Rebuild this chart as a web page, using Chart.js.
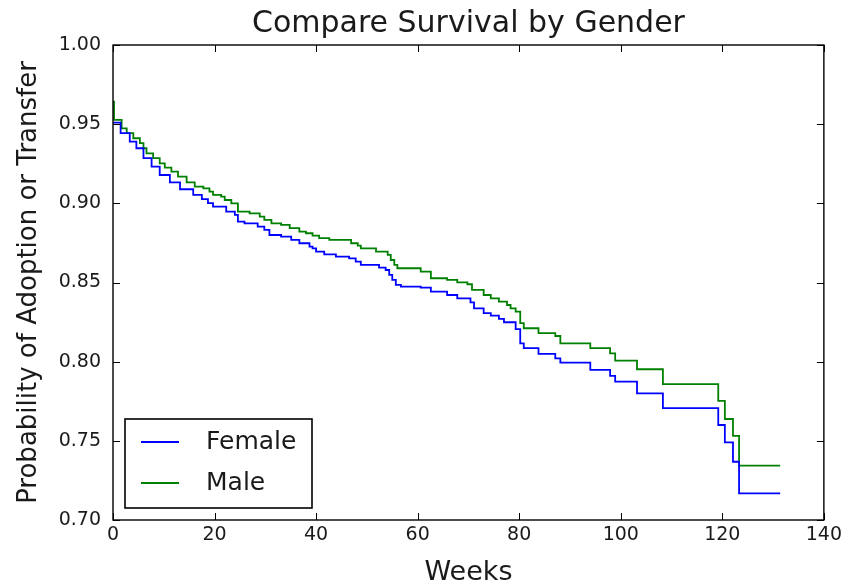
<!DOCTYPE html>
<html>
<head>
<meta charset="utf-8">
<title>Compare Survival by Gender</title>
<script src="https://cdn.jsdelivr.net/npm/chart.js@4.4.1/dist/chart.umd.min.js"></script>
<style>
  html, body { margin: 0; padding: 0; background: #fff; }
  #wrap { width: 846px; height: 585px; }
</style>
</head>
<body>
<div id="wrap"><canvas id="survivalChart" width="846" height="585"></canvas></div>
<script>
// survival estimates: value holds from that week on
const femaleWeeks = [0, 1.5, 3.3, 4.6, 6.0, 7.6, 9.2, 11.2, 13.2, 15.8, 17.5, 18.7, 19.7, 22.3, 24.0, 24.6,
  25.9, 28.5, 29.8, 30.8, 33.1, 35.1, 36.7, 38.7, 39.3, 40.0, 41.6, 43.9, 46.5, 47.8, 48.8, 52.4, 53.7,
  54.4, 55.0, 55.7, 56.7, 60.6, 62.6, 65.8, 67.8, 70.4, 71.1, 73.0, 74.4, 76.0, 77.0, 79.3, 80.2, 80.9,
  83.8, 87.1, 88.1, 94.0, 97.9, 98.9, 103.2, 108.3, 119.2, 120.5, 122.1, 123.3, 131.4];
const femaleSurvival = [0.951, 0.9443, 0.939, 0.9348, 0.9285, 0.9232, 0.9179, 0.9133, 0.9089, 0.9053, 0.9026,
  0.9001, 0.8979, 0.8948, 0.8927, 0.8885, 0.8874, 0.8853, 0.8832, 0.880, 0.879, 0.8769, 0.8748, 0.8727,
  0.8716, 0.8695, 0.8678, 0.8663, 0.8653, 0.8632, 0.8611, 0.8594, 0.8579, 0.8548, 0.8516, 0.8485, 0.8474,
  0.8468, 0.8442, 0.8421, 0.840, 0.8375, 0.8337, 0.8306, 0.8291, 0.827, 0.8249, 0.8205, 0.8116, 0.8085,
  0.8049, 0.8021, 0.7994, 0.7948, 0.791, 0.7874, 0.780, 0.7706, 0.760, 0.749, 0.7368, 0.7168, 0.7168];

const maleWeeks = [0, 0.2, 1.7, 2.7, 4.0, 5.3, 6.0, 6.6, 7.9, 9.2, 10.2, 11.5, 12.8, 14.5, 16.1, 17.8, 19.0,
  19.7, 21.3, 22.0, 23.3, 24.6, 26.9, 28.9, 29.8, 31.2, 33.1, 34.8, 36.7, 38.0, 39.3, 40.6, 42.6, 46.9,
  48.2, 48.8, 51.8, 54.1, 54.7, 55.4, 56.0, 60.6, 62.6, 65.8, 67.8, 69.8, 70.7, 73.0, 74.4, 76.0, 77.6,
  78.3, 79.3, 80.2, 80.9, 83.8, 87.1, 88.1, 94.0, 97.9, 98.9, 103.2, 108.3, 119.2, 120.5, 122.1, 123.3, 131.4];
const maleSurvival = [0.9643, 0.9527, 0.9474, 0.9443, 0.9411, 0.938, 0.9348, 0.9316, 0.9285, 0.9253, 0.9226,
  0.920, 0.9169, 0.9133, 0.9106, 0.9095, 0.9074, 0.9053, 0.9042, 0.9021, 0.900, 0.8948, 0.8937, 0.8916,
  0.8895, 0.8874, 0.8864, 0.8843, 0.8821, 0.8811, 0.8796, 0.878, 0.8769, 0.8748, 0.8733, 0.8716, 0.8695,
  0.8674, 0.8642, 0.8611, 0.859, 0.8569, 0.8527, 0.8516, 0.8501, 0.8489, 0.8453, 0.8421, 0.840, 0.8379,
  0.8358, 0.8337, 0.8316, 0.8243, 0.8211, 0.818, 0.8162, 0.8116, 0.8085, 0.8053, 0.8006, 0.7952, 0.7858,
  0.7752, 0.7638, 0.7531, 0.7343, 0.7343];

const seriesLabels = ["Female", "Male"];
const xTickValues = [0, 20, 40, 60, 80, 100, 120, 140];
const yTickValues = [0.70, 0.75, 0.80, 0.85, 0.90, 0.95, 1.00];

const FONT = "'DejaVu Sans', sans-serif";
const TEXT = "#1a1a1a";

const toPoints = (xs, ys) => xs.map((w, i) => ({ x: w, y: ys[i] }));

// matplotlib look: closed frame, ticks pointing inwards on all four sides, legend box in lower left
const frameAndLegend = {
  id: "frameAndLegend",
  afterDatasetsDraw(chart) {
    const { ctx, chartArea: a, scales: { x, y } } = chart;
    const tick = 7;
    ctx.save();
    ctx.strokeStyle = "#000";
    ctx.lineWidth = 1;
    ctx.beginPath();
    x.ticks.forEach(t => {
      const px = Math.round(x.getPixelForValue(t.value)) + 0.5;
      ctx.moveTo(px, a.bottom); ctx.lineTo(px, a.bottom - tick);
      ctx.moveTo(px, a.top); ctx.lineTo(px, a.top + tick);
    });
    y.ticks.forEach(t => {
      const py = Math.round(y.getPixelForValue(t.value)) + 0.5;
      ctx.moveTo(a.left, py); ctx.lineTo(a.left + tick, py);
      ctx.moveTo(a.right, py); ctx.lineTo(a.right - tick, py);
    });
    ctx.stroke();
    ctx.lineWidth = 1.4;
    ctx.strokeRect(a.left, a.top, a.right - a.left, a.bottom - a.top);

    // legend
    const bx = a.left + 12, bw = 187, bh = 89, by = a.bottom - 12 - bh;
    ctx.fillStyle = "#fff";
    ctx.fillRect(bx, by, bw, bh);
    ctx.lineWidth = 1.6;
    ctx.strokeRect(bx, by, bw, bh);
    ctx.font = "25px " + FONT;
    ctx.textBaseline = "middle";
    chart.data.datasets.forEach((ds, i) => {
      const ly = by + 23 + i * 41;
      ctx.strokeStyle = ds.borderColor;
      ctx.lineWidth = 1.8;
      ctx.beginPath();
      ctx.moveTo(bx + 16, ly); ctx.lineTo(bx + 54, ly);
      ctx.stroke();
      ctx.fillStyle = TEXT;
      ctx.fillText(ds.label, bx + 81, ly);
    });
    ctx.restore();
  }
};

new Chart(document.getElementById("survivalChart"), {
  type: "line",
  data: {
    datasets: [
      {
        label: seriesLabels[0],
        data: toPoints(femaleWeeks, femaleSurvival),
        borderColor: "rgb(0, 0, 255)",
        borderWidth: 1.8,
        stepped: true,
        pointRadius: 0,
        fill: false,
      },
      {
        label: seriesLabels[1],
        data: toPoints(maleWeeks, maleSurvival),
        borderColor: "rgb(0, 128, 0)",
        borderWidth: 1.8,
        stepped: true,
        pointRadius: 0,
        fill: false,
      },
    ],
  },
  options: {
    responsive: false,
    animation: false,
    devicePixelRatio: 1,
    layout: { padding: { top: 0, right: 19, bottom: 0, left: 0 } },
    plugins: {
      legend: { display: false },
      tooltip: { enabled: false },
      title: {
        display: true,
        text: "Compare Survival by Gender",
        fullSize: false,
        color: TEXT,
        font: { family: FONT, size: 30, weight: "normal", lineHeight: 1.2 },
        padding: { top: 6, bottom: 3 },
      },
    },
    scales: {
      x: {
        type: "linear",
        min: 0,
        max: 140,
        afterBuildTicks: s => { s.ticks = xTickValues.map(v => ({ value: v })); },
        afterFit: s => { s.height = 65; },
        grid: { display: false, drawTicks: false },
        border: { display: false },
        ticks: { color: TEXT, padding: 4, maxRotation: 0, font: { family: FONT, size: 19 } },
        title: {
          display: true,
          text: "Weeks",
          color: TEXT,
          font: { family: FONT, size: 27, lineHeight: 1.0 },
          padding: { top: 0, bottom: -1 },
        },
      },
      y: {
        min: 0.70,
        max: 1.00,
        afterBuildTicks: s => { s.ticks = yTickValues.map(v => ({ value: v })); },
        afterFit: s => { s.width = 113; },
        grid: { display: false, drawTicks: false },
        border: { display: false },
        ticks: {
          color: TEXT,
          padding: 12,
          font: { family: FONT, size: 19 },
          callback: v => Number(v).toFixed(2),
        },
        title: {
          display: true,
          text: "Probability of Adoption or Transfer",
          color: TEXT,
          font: { family: FONT, size: 26, lineHeight: 1.2 },
          padding: { top: 14, bottom: 0 },
        },
      },
    },
  },
  plugins: [frameAndLegend],
});
</script>
</body>
</html>
